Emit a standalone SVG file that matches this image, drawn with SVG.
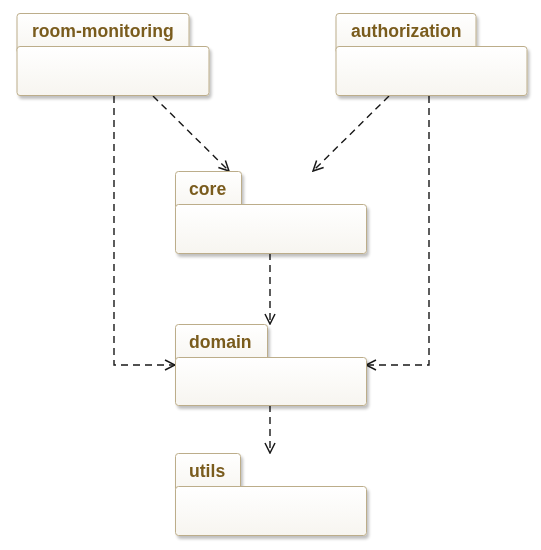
<svg xmlns="http://www.w3.org/2000/svg" width="541" height="550" viewBox="0 0 541 550">
<defs>
<linearGradient id="g" x1="0" y1="0" x2="0" y2="1">
<stop offset="0" stop-color="#ffffff"/>
<stop offset="1" stop-color="#f7f5f0"/>
</linearGradient>
<filter id="sh" x="-10%" y="-10%" width="130%" height="140%">
<feGaussianBlur in="SourceAlpha" stdDeviation="1.5"/>
<feOffset dx="2" dy="3" result="b"/>
<feComponentTransfer><feFuncA type="linear" slope="0.25"/></feComponentTransfer>
<feMerge><feMergeNode/><feMergeNode in="SourceGraphic"/></feMerge>
</filter>
<marker id="arr" viewBox="0 0 12 12" refX="11" refY="6" markerWidth="12" markerHeight="12" markerUnits="userSpaceOnUse" orient="auto">
<path d="M1,1 L11,6 L1,11" fill="none" stroke="#181818" stroke-width="1.5"/>
</marker>
</defs>
<style>
.pk rect{fill:url(#g);stroke:#bcad8a;stroke-width:1}
.pk text{font-family:"Liberation Sans",Arial,sans-serif;font-weight:bold;font-size:17.6px;fill:#7a5c1f}
.c{fill:none;stroke:#181818;stroke-width:1.4;stroke-dasharray:7,5;marker-end:url(#arr)}
</style>
<g id="connectors">
<path class="c" d="M153,96 L229,171"/>
<path class="c" d="M389,96 L313,171"/>
<path class="c" d="M114,96 L114,365 L175,365"/>
<path class="c" d="M429,96 L429,365 L366,365"/>
<path class="c" d="M270,253 L270,324"/>
<path class="c" d="M270,405 L270,453"/>
</g>
<g id="room-monitoring" class="pk" filter="url(#sh)">
<rect x="17" y="13.5" width="172" height="40" rx="3"/>
<rect x="17" y="46.5" width="192" height="49" rx="3"/>
<text x="32" y="36.5">room-monitoring</text>
</g>
<g id="authorization" class="pk" filter="url(#sh)">
<rect x="336" y="13.5" width="140" height="40" rx="3"/>
<rect x="336" y="46.5" width="191" height="49" rx="3"/>
<text x="351" y="36.5">authorization</text>
</g>
<g id="core" class="pk" filter="url(#sh)">
<rect x="175.5" y="171.5" width="66" height="40" rx="3"/>
<rect x="175.5" y="204.5" width="191" height="49" rx="3"/>
<text x="189" y="194.5">core</text>
</g>
<g id="domain" class="pk" filter="url(#sh)">
<rect x="175.5" y="324.5" width="92" height="40" rx="3"/>
<rect x="175.5" y="357.5" width="191" height="48" rx="3"/>
<text x="189" y="347.5">domain</text>
</g>
<g id="utils" class="pk" filter="url(#sh)">
<rect x="175.5" y="453.5" width="65" height="40" rx="3"/>
<rect x="175.5" y="486.5" width="191" height="49" rx="3"/>
<text x="189" y="476.5">utils</text>
</g>
</svg>
